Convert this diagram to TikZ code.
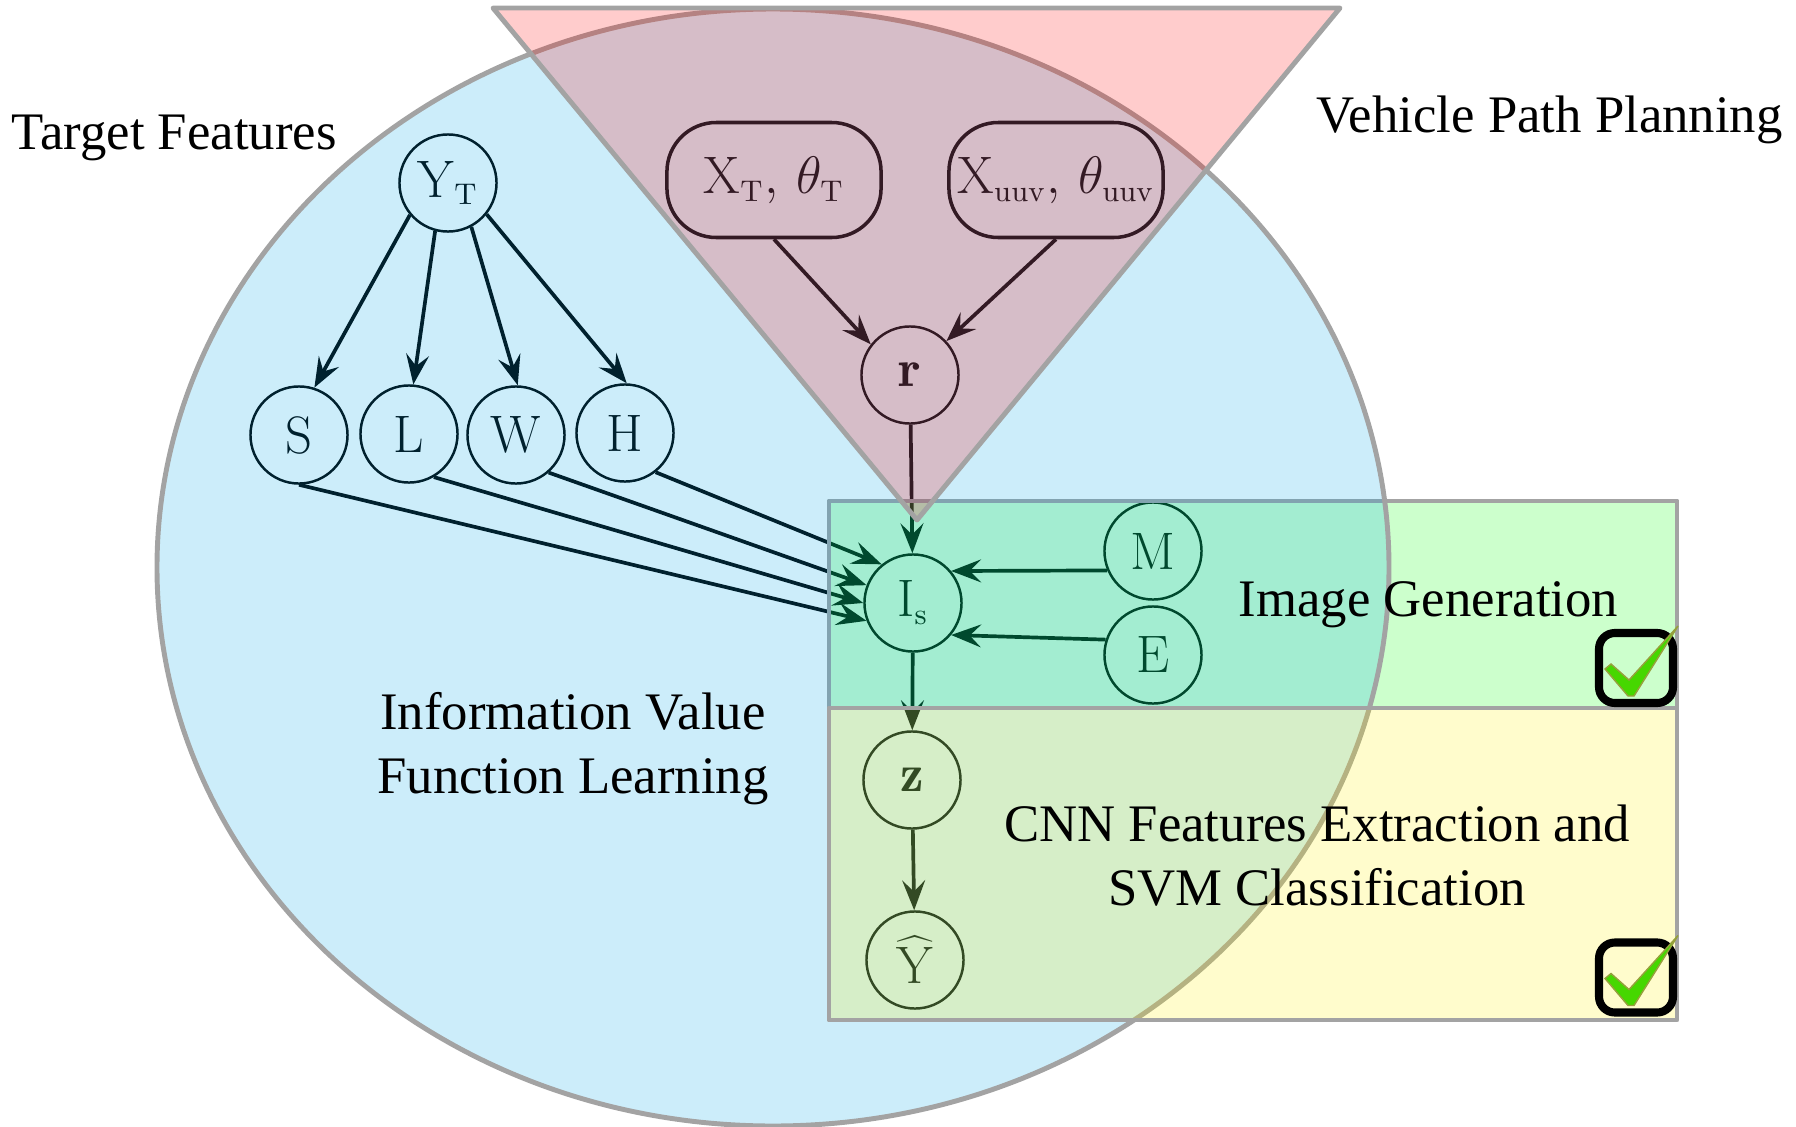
\RequirePackage{fix-cm}
\documentclass[tikz,border=0pt]{standalone}
\usepackage{fontspec}
\newfontfamily\labelfont{Liberation Serif}
\usetikzlibrary{arrows.meta}
\definecolor{edgegray}{RGB}{163,163,163}
\definecolor{ellblue}{RGB}{0,165,230}
\definecolor{tickgreen}{RGB}{70,215,0}
\definecolor{tickrim}{RGB}{150,160,60}
\tikzset{
  var/.style={circle,draw,line width=0.7pt,minimum size=27.6pt,inner sep=0pt,font=\fontsize{15}{18}\selectfont},
  param/.style={rounded corners=14pt,draw,line width=1pt,minimum width=60.9pt,minimum height=32.7pt,inner sep=0pt,font=\fontsize{15}{18}\selectfont},
  dep/.style={-{Stealth[length=8.5pt,width=6.5pt,inset=3.2pt]},line width=1.05pt},
  region/.style={draw=edgegray,line width=1.4pt,fill opacity=0.2,line join=round},
  caption/.style={font=\labelfont\fontsize{15}{18}\selectfont,inner sep=0pt}
}
\providecommand{\lowsub}[1]{_{\mbox{\fontsize{8.5}{9}\selectfont#1}}}
\providecommand{\CheckBox}[1]{
\draw[line width=2.3pt,rounded corners=4.5pt] (#1) +(-37,-35) rectangle +(37,35);
\filldraw[fill=tickgreen,draw=tickrim,line width=0.4pt] (#1) +(-31,1) -- +(-25,-4) -- +(-7,12) -- +(42,-42) -- +(-2,28) -- +(-8,28) -- cycle;
}
\begin{document}
\begin{tikzpicture}[x=0.01cm,y=-0.01cm]
\useasboundingbox (0,0) rectangle (1796,1127);
\node[var] (yt) at (448,183) {$\mathrm{Y}\lowsub{T}$};
\node[var] (s) at (299,435) {S};
\node[var] (l) at (409,434) {L};
\node[var] (w) at (516,435) {W};
\node[var] (h) at (625,433) {H};
\node[param] (xt) at (774,180) {$\mathrm{X}\lowsub{T},\,\theta\lowsub{T}$};
\node[param] (xu) at (1056,180) {$\mathrm{X}\lowsub{uuv},\,\theta\lowsub{uuv}$};
\node[var] (r) at (910,375) {$\mathbf{r}$};
\node[var] (is) at (913,603) {$\mathrm{I}\lowsub{s}$};
\node[var] (m) at (1153,551) {M};
\node[var] (e) at (1153,655) {E};
\node[var] (z) at (912,780) {$\mathbf{z}$};
\node[var] (yh) at (915,960) {$\widehat{\mathrm{Y}}$};

\draw[dep] (yt.220) -- (s.72);
\draw[dep] (yt.255) -- (l.85);
\draw[dep] (yt.298) -- (w.88);
\draw[dep] (yt.321) -- (h.88);
\draw[dep] (s.south) -- (is.201);
\draw[dep] (l.300) -- (is.west);
\draw[dep] (w.311) -- (is.159);
\draw[dep] (h.308) -- (is.129);
\draw[dep] (xt.south) -- (r.142);
\draw[dep] (xu.south) -- (r.43);
\draw[dep] (r) -- (is);
\draw[dep] (m.203) -- (is.40);
\draw[dep] (e.162) -- (is.320);
\draw[dep] (is) -- (z);
\draw[dep] (z) -- (yh);

\draw[region,fill=green] (829,501) rectangle (1677,708);
\draw[region,fill=ellblue] (773,567.5) ellipse [x radius=616,y radius=558.5];
\draw[region,fill=red] (493,8) -- (1340,8) -- (917,520) -- cycle;
\draw[region,fill=yellow] (829,708) rectangle (1677,1020);

\node[caption,anchor=base west] (tf) at (11,149) {Target Features};
\node[caption,anchor=base west] (vpp) at (1316,132) {Vehicle Path Planning};
\node[caption,anchor=base west] (ig) at (1238,616) {Image Generation};
\node[caption,align=center,anchor=base] (ivf) at (573,793) {Information Value\\Function Learning};
\node[caption,align=center,anchor=base] (cnn) at (1317,905) {CNN Features Extraction and\\SVM Classification};

\CheckBox{1636,668}
\CheckBox{1636,977.5}
\end{tikzpicture}
\end{document}
